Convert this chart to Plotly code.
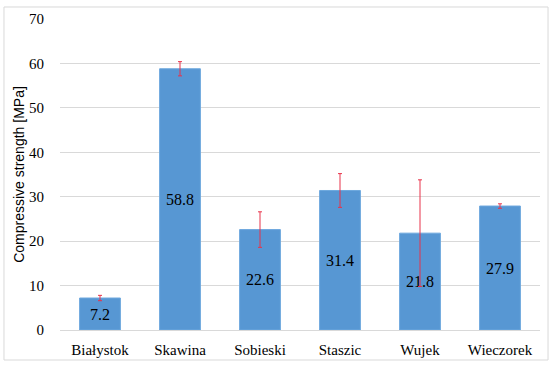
import plotly.graph_objects as go

categories = ["Białystok", "Skawina", "Sobieski", "Staszic", "Wujek", "Wieczorek"]
strength = [7.2, 58.8, 22.6, 31.4, 21.8, 27.9]
errors = [0.6, 1.6, 4.0, 3.8, 12.0, 0.5]
labels = ["7.2", "58.8", "22.6", "31.4", "21.8", "27.9"]
y_ticks = [0, 10, 20, 30, 40, 50, 60, 70]

serif = "Times New Roman"
sans = "Liberation Sans"

fig = go.Figure()
fig.add_trace(go.Bar(
    x=categories,
    y=strength,
    text=labels,
    textposition="inside",
    insidetextanchor="middle",
    textfont=dict(family=serif, size=16, color="black"),
    insidetextfont=dict(family=serif, size=16, color="black"),
    marker=dict(color="#5797d3", line=dict(width=1, color="#6ea8de")),
    error_y=dict(type="data", array=errors, visible=True,
                 color="#e8334a", thickness=1, width=2),
    width=0.51,
))

fig.update_layout(
    width=550, height=365,
    margin=dict(l=60, r=10, t=19, b=35, autoexpand=False),
    paper_bgcolor="white",
    plot_bgcolor="white",
    showlegend=False,
    font=dict(family=serif, size=15, color="black"),
    xaxis=dict(
        automargin=False,
        showgrid=False,
        showline=True, linecolor="#d9d9d9", linewidth=1,
        ticks="outside", ticklen=6, tickcolor="rgba(0,0,0,0)",
        tickfont=dict(family=serif, size=15, color="black"),
    ),
    yaxis=dict(
        automargin=False,
        range=[0, 70],
        tickvals=y_ticks,
        showgrid=True, gridcolor="#d9d9d9", gridwidth=1,
        zeroline=False,
        showline=False,
        ticks="outside", ticklen=12, tickcolor="rgba(0,0,0,0)",
        tickfont=dict(family=serif, size=15, color="black"),
        title=dict(text="Compressive strength [MPa]",
                   font=dict(family=sans, size=14, color="black"),
                   standoff=1),
    ),
    shapes=[dict(
        type="rect", xref="paper", yref="paper",
        x0=-0.1167, x1=1.0167, y0=-0.0965, y1=1.0386,
        line=dict(color="#d9d9d9", width=1), fillcolor="rgba(0,0,0,0)",
        layer="below",
    )],
)

fig.write_html("out.html", config={"displayModeBar": False},
               post_script="document.body.style.margin='0';document.body.style.padding='0';")
